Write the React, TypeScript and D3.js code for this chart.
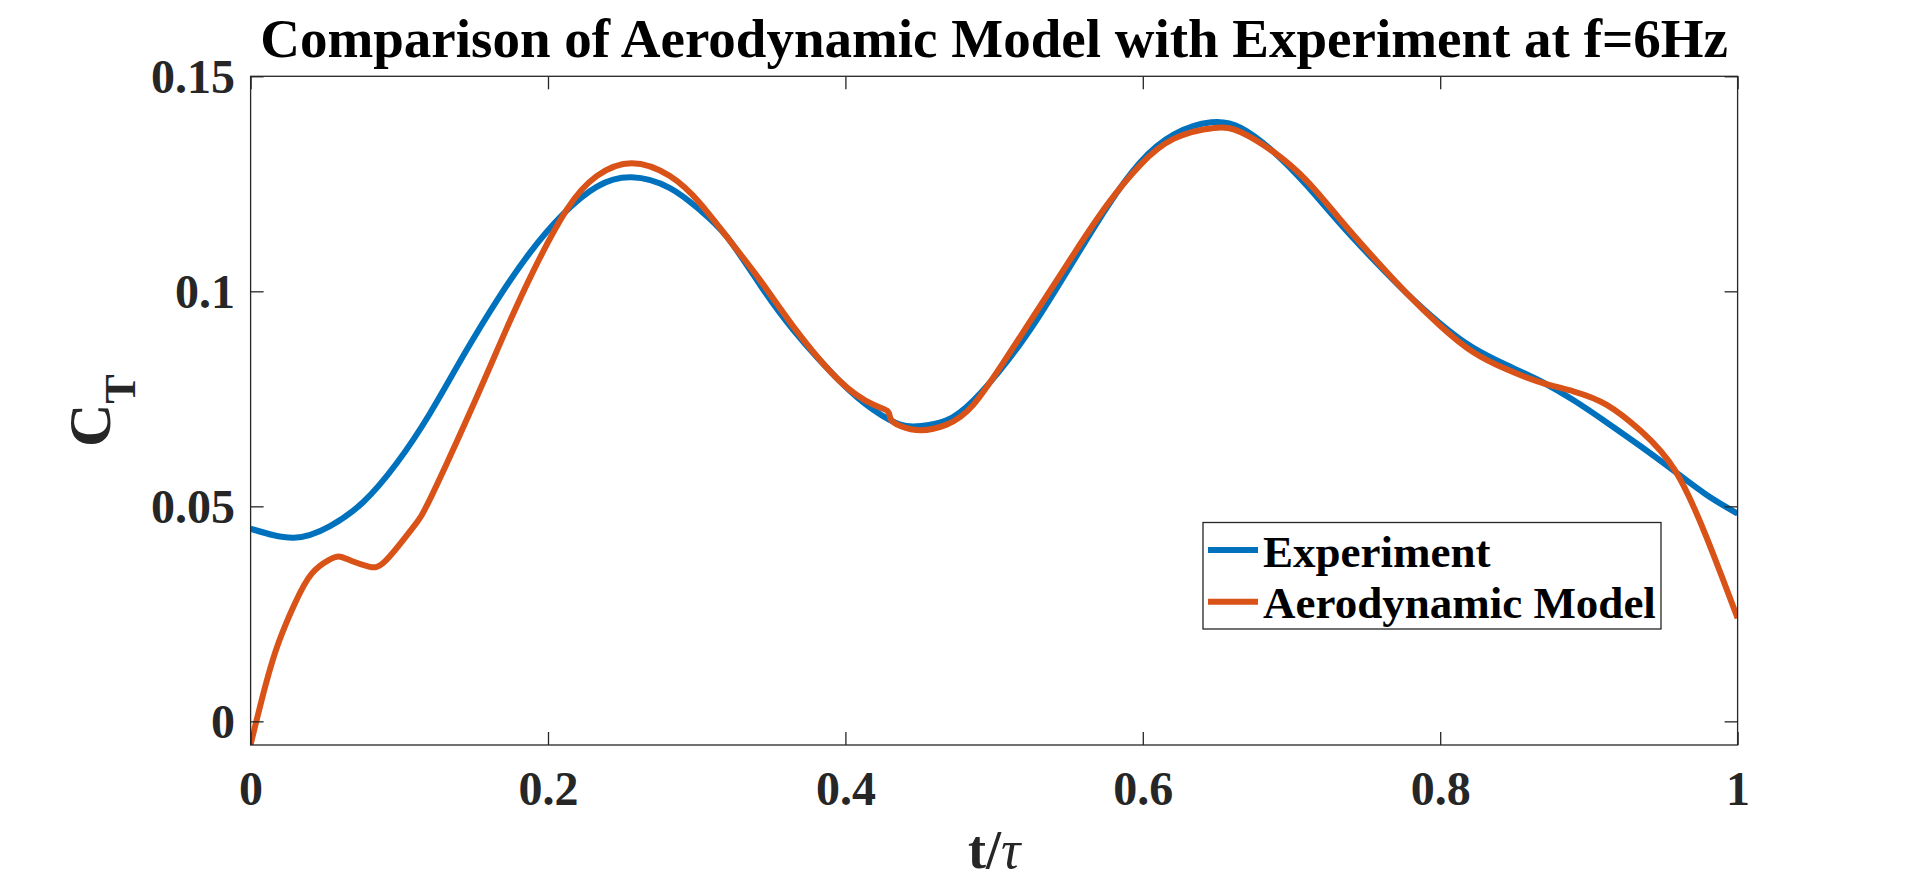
import * as d3 from 'd3'
import { useEffect, useRef } from 'react'

const W = 1920
const H = 879
const margin = { top: 76.3, right: 182.4, bottom: 134, left: 250.6 }
const width = W - margin.left - margin.right
const height = H - margin.top - margin.bottom

const FONT = "'Liberation Serif', 'Times New Roman', serif"
const AXIS = '#262626'

const xTicks = [0, 0.2, 0.4, 0.6, 0.8, 1]
const xTickLabels = ['0', '0.2', '0.4', '0.6', '0.8', '1']
const yTicks = [0, 0.05, 0.1, 0.15]
const yTickLabels = ['0', '0.05', '0.1', '0.15']

const seriesNames = ['Experiment', 'Aerodynamic Model']
const seriesColors = ['#0072BD', '#D95319']

// Experiment (blue)
const expT = [
  0, 0.029, 0.0534, 0.0758, 0.0982, 0.1206, 0.143, 0.1655, 0.1879, 0.2103,
  0.2327, 0.2563, 0.282, 0.3022, 0.3202, 0.3426, 0.365, 0.396, 0.419, 0.437,
  0.451, 0.468, 0.486, 0.509, 0.531, 0.554, 0.576, 0.598, 0.621, 0.646, 0.666,
  0.688, 0.71, 0.732, 0.755, 0.777, 0.8, 0.822, 0.845, 0.867, 0.89, 0.912,
  0.935, 0.957, 0.979, 1.0,
]
const expCT = [
  0.0448, 0.0427, 0.0454, 0.051, 0.06, 0.0716, 0.085, 0.0978, 0.109, 0.118,
  0.1243, 0.1265, 0.124, 0.1189, 0.1127, 0.1015, 0.091, 0.0792, 0.0724, 0.069,
  0.0687, 0.07, 0.0746, 0.0838, 0.0946, 0.1074, 0.1196, 0.1299, 0.1365,
  0.1393, 0.138, 0.1324, 0.1247, 0.116, 0.1074, 0.0997, 0.0925, 0.0869,
  0.0828, 0.0792, 0.0746, 0.0695, 0.0639, 0.0583, 0.0527, 0.0483,
]

// Aerodynamic model (orange)
const modT = [
  0, 0.0099, 0.0189, 0.03, 0.041, 0.0525, 0.06, 0.068, 0.0795, 0.0907, 0.1086,
  0.1218, 0.1509, 0.1711, 0.1901, 0.2126, 0.2327, 0.2563, 0.282, 0.3022,
  0.3202, 0.3426, 0.365, 0.396, 0.419, 0.4285, 0.4305, 0.437, 0.451, 0.468,
  0.486, 0.509, 0.531, 0.554, 0.576, 0.598, 0.621, 0.648, 0.666, 0.688, 0.71,
  0.732, 0.755, 0.777, 0.8, 0.822, 0.845, 0.867, 0.89, 0.912, 0.935, 0.958,
  0.979, 1.0,
]
const modCT = [
  -0.0054, 0.0082, 0.0184, 0.0276, 0.0343, 0.0375, 0.0383, 0.0373, 0.036,
  0.0373, 0.0448, 0.0525, 0.0745, 0.0905, 0.1047, 0.119, 0.1268, 0.1298,
  0.1268, 0.1205, 0.1127, 0.1026, 0.0918, 0.0792, 0.0736, 0.0721, 0.0703,
  0.0687, 0.0677, 0.069, 0.0736, 0.0849, 0.0966, 0.1089, 0.1201, 0.1293,
  0.1355, 0.138, 0.137, 0.1324, 0.1258, 0.117, 0.1079, 0.0997, 0.092, 0.0859,
  0.0818, 0.0789, 0.0767, 0.0736, 0.0675, 0.0583, 0.0429, 0.024,
]

export default function App() {
  const ref = useRef<SVGSVGElement>(null)

  useEffect(() => {
    const svg = d3.select(ref.current)
    svg.selectAll('*').remove()

    const x = d3.scaleLinear().domain([0, 1]).range([0, width])
    const y = d3.scaleLinear().domain([-0.0055, 0.15]).range([height, 0])

    svg
      .append('text')
      .attr('x', margin.left + width / 2)
      .attr('y', 57)
      .attr('text-anchor', 'middle')
      .style('font-family', FONT)
      .style('font-weight', 'bold')
      .style('font-size', '55px')
      .attr('fill', '#000')
      .text('Comparison of Aerodynamic Model with Experiment at f=6Hz')

    const g = svg
      .append('g')
      .attr('transform', `translate(${margin.left}, ${margin.top})`)

    g.append('clipPath')
      .attr('id', 'plot-clip')
      .append('rect')
      .attr('width', width)
      .attr('height', height)

    // natural spline keeps the curves smooth through the read-off points
    const line = d3
      .line<[number, number]>()
      .x((d) => x(d[0]))
      .y((d) => y(d[1]))
      .curve(d3.curveNatural)

    const series: [number, number][][] = [
      expT.map((t, i) => [t, expCT[i]]),
      modT.map((t, i) => [t, modCT[i]]),
    ]

    g.append('g')
      .attr('clip-path', 'url(#plot-clip)')
      .selectAll('path')
      .data(series)
      .join('path')
      .attr('d', (d) => line(d))
      .attr('fill', 'none')
      .attr('stroke', (_, i) => seriesColors[i])
      .attr('stroke-width', 6)
      .attr('stroke-linejoin', 'round')

    const styleAxis = (sel: any) => {
      sel.select('.domain').remove()
      sel.selectAll('.tick line').attr('stroke', AXIS).attr('stroke-width', 1.3)
      sel
        .selectAll('.tick text')
        .attr('fill', AXIS)
        .style('font-family', FONT)
        .style('font-weight', 'bold')
        .style('font-size', '48px')
    }

    const xAxis = d3
      .axisBottom(x)
      .tickValues(xTicks)
      .tickFormat((_, i) => xTickLabels[i])
      .tickSizeInner(-13)
      .tickSizeOuter(0)
      .tickPadding(0)
    const gx = g.append('g').attr('transform', `translate(0, ${height})`).call(xAxis)
    styleAxis(gx)
    gx.selectAll('.tick text').attr('y', 60).attr('dy', null)

    const xTop = d3
      .axisTop(x)
      .tickValues(xTicks)
      .tickFormat(() => '')
      .tickSizeInner(-13)
      .tickSizeOuter(0)
    styleAxis(g.append('g').call(xTop))

    const yAxis = d3
      .axisLeft(y)
      .tickValues(yTicks)
      .tickFormat((_, i) => yTickLabels[i])
      .tickSizeInner(-13)
      .tickSizeOuter(0)
      .tickPadding(15.6)
    const gy = g.append('g').call(yAxis)
    styleAxis(gy)
    gy.selectAll('.tick text').attr('x', -15.6).attr('dy', '0.34em')

    const yRight = d3
      .axisRight(y)
      .tickValues(yTicks)
      .tickFormat(() => '')
      .tickSizeInner(-13)
      .tickSizeOuter(0)
    styleAxis(g.append('g').attr('transform', `translate(${width}, 0)`).call(yRight))

    g.append('rect')
      .attr('width', width)
      .attr('height', height)
      .attr('fill', 'none')
      .attr('stroke', AXIS)
      .attr('stroke-width', 1.3)

    // x label  t/τ
    const xl = svg
      .append('text')
      .attr('x', margin.left + width / 2)
      .attr('y', 868)
      .attr('text-anchor', 'middle')
      .style('font-family', FONT)
      .style('font-size', '54px')
      .attr('fill', AXIS)
    xl.append('tspan').style('font-weight', 'bold').text('t/')
    xl.append('tspan').style('font-style', 'italic').text('τ')

    // y label  C_T
    const yl = svg
      .append('text')
      .attr('transform', `translate(110, ${margin.top + height / 2}) rotate(-90)`)
      .attr('text-anchor', 'middle')
      .style('font-family', FONT)
      .style('font-weight', 'bold')
      .attr('fill', AXIS)
    yl.append('tspan').style('font-size', '60px').text('C')
    yl.append('tspan').style('font-size', '44px').attr('dy', 25).text('T')

    // legend
    const lg = svg.append('g').attr('transform', 'translate(1203, 522.5)')
    lg.append('rect')
      .attr('width', 458)
      .attr('height', 106.5)
      .attr('fill', '#fff')
      .attr('stroke', AXIS)
      .attr('stroke-width', 1.3)
    const entry = lg
      .selectAll('g.entry')
      .data(seriesNames)
      .join('g')
      .attr('class', 'entry')
      .attr('transform', (_, i) => `translate(0, ${44 + i * 51.8})`)
    entry
      .append('line')
      .attr('x1', 5)
      .attr('x2', 55)
      .attr('y1', -16.5)
      .attr('y2', -16.5)
      .attr('stroke', (_, i) => seriesColors[i])
      .attr('stroke-width', 6)
    entry
      .append('text')
      .attr('x', 60)
      .style('font-family', FONT)
      .style('font-weight', 'bold')
      .style('font-size', '45px')
      .attr('fill', '#000')
      .text((d) => d)
  }, [])

  return (
    <svg
      ref={ref}
      width={W}
      height={H}
      style={{ position: 'absolute', left: 0, top: 0, background: '#fff' }}
    />
  )
}
